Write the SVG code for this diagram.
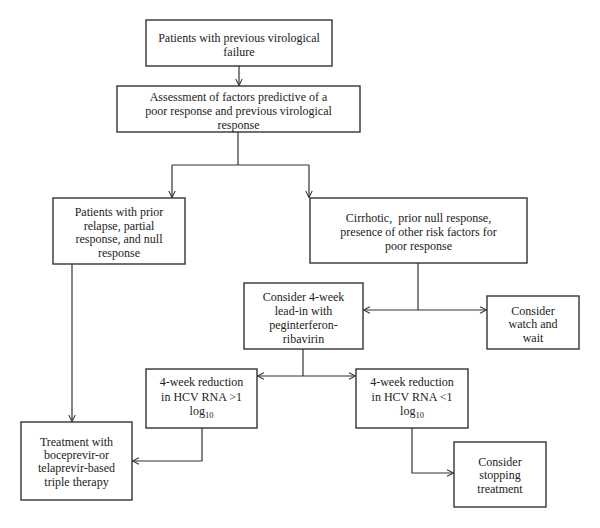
<svg xmlns="http://www.w3.org/2000/svg" width="600" height="528" viewBox="0 0 600 528">
<defs>
<style>
.box{fill:#fff;stroke:#333;stroke-width:1.4}
.t{font-family:"Liberation Serif","Times New Roman",serif;font-size:12px;fill:#222;text-anchor:middle}
.sub{font-size:8.5px}
.c{fill:none;stroke:#333;stroke-width:1.2}
</style>
<marker id="ah" viewBox="0 0 10 10" refX="9" refY="5" markerWidth="8" markerHeight="8" markerUnits="userSpaceOnUse" orient="auto-start-reverse">
<polyline points="1,1 9,5 1,9" fill="none" stroke="#333" stroke-width="1.3"/>
</marker>
</defs>
<rect width="600" height="528" fill="#fff"/>
<g id="connectors">
<path class="c" d="M239,66 V85.5" marker-end="url(#ah)"/>
<path class="c" d="M238,132 V165"/>
<path class="c" d="M172,165 H309"/>
<path class="c" d="M172,165 V197.5" marker-end="url(#ah)"/>
<path class="c" d="M309,165 V197.5" marker-end="url(#ah)"/>
<path class="c" d="M72,264 V421.5" marker-end="url(#ah)"/>
<path class="c" d="M418,263 V310"/>
<path class="c" d="M363.5,310 H486.5" marker-start="url(#ah)" marker-end="url(#ah)"/>
<path class="c" d="M303,349 V376"/>
<path class="c" d="M257.5,376 H355.5" marker-start="url(#ah)" marker-end="url(#ah)"/>
<path class="c" d="M202,428 V461 H132.5" marker-end="url(#ah)"/>
<path class="c" d="M412,428 V473 H453.5" marker-end="url(#ah)"/>
</g>
<g id="n1"><rect class="box" x="146" y="20" width="186" height="46"/>
<text class="t" x="239" y="42">Patients with previous virological</text>
<text class="t" x="239" y="56">failure</text></g>
<g id="n2"><rect class="box" x="117" y="86" width="243" height="46"/>
<text class="t" x="238.5" y="101">Assessment of factors predictive of a</text>
<text class="t" x="238.5" y="115">poor response and previous virological</text>
<text class="t" x="238.5" y="129">response</text></g>
<g id="n3"><rect class="box" x="53" y="198" width="132" height="66"/>
<text class="t" x="119" y="216">Patients with prior</text>
<text class="t" x="119" y="230">relapse, partial</text>
<text class="t" x="119" y="243">response, and null</text>
<text class="t" x="119" y="257">response</text></g>
<g id="n4"><rect class="box" x="310" y="198" width="217" height="65"/>
<text class="t" x="418.5" y="222">Cirrhotic,&#160; prior null response,</text>
<text class="t" x="418.5" y="236">presence of other risk factors for</text>
<text class="t" x="418.5" y="250">poor response</text></g>
<g id="n5"><rect class="box" x="244" y="283" width="119" height="66"/>
<text class="t" x="303.5" y="301">Consider 4-week</text>
<text class="t" x="303.5" y="315">lead-in with</text>
<text class="t" x="303.5" y="329">peginterferon-</text>
<text class="t" x="303.5" y="343">ribavirin</text></g>
<g id="n6"><rect class="box" x="487" y="296" width="92" height="53"/>
<text class="t" x="533" y="315">Consider</text>
<text class="t" x="533" y="328">watch and</text>
<text class="t" x="533" y="342">wait</text></g>
<g id="n7"><rect class="box" x="146" y="369" width="111" height="59"/>
<text class="t" x="201.5" y="386">4-week reduction</text>
<text class="t" x="201.5" y="401">in HCV RNA &gt;1</text>
<text class="t" x="201.5" y="415">log<tspan class="sub" dy="3">10</tspan></text></g>
<g id="n8"><rect class="box" x="356" y="369" width="112" height="59"/>
<text class="t" x="412" y="386">4-week reduction</text>
<text class="t" x="412" y="401">in HCV RNA &lt;1</text>
<text class="t" x="412" y="415">log<tspan class="sub" dy="3">10</tspan></text></g>
<g id="n9"><rect class="box" x="21" y="422" width="111" height="78"/>
<text class="t" x="76.5" y="446">Treatment with</text>
<text class="t" x="76.5" y="459">boceprevir-or</text>
<text class="t" x="76.5" y="472">telaprevir-based</text>
<text class="t" x="76.5" y="486">triple therapy</text></g>
<g id="n10"><rect class="box" x="454" y="442" width="92" height="65"/>
<text class="t" x="500" y="466">Consider</text>
<text class="t" x="500" y="479">stopping</text>
<text class="t" x="500" y="493">treatment</text></g>
</svg>
